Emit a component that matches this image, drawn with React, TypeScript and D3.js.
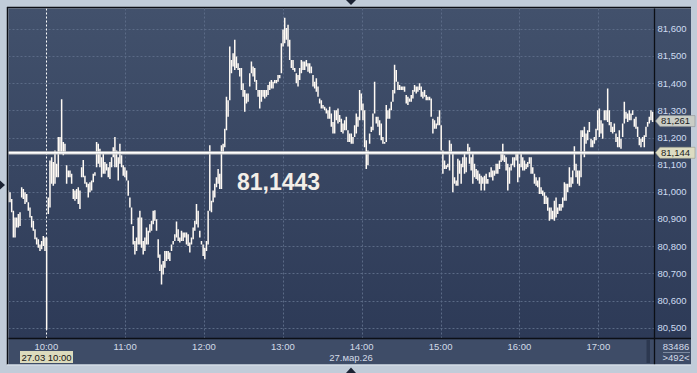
import React from "react";
import * as d3 from "d3";

// Bars: ~76-second high/low bars, starting 27.03.2026 09:31:08
const barStart = new Date(2026, 2, 27, 9, 31, 8);
const barStepSeconds = 76;

const highs = [
  81.005, 80.999, 80.974, 80.931, 80.906, 80.906, 80.919, 80.925, 81.017, 81.011,
  80.999, 80.993, 80.962, 80.943, 80.912, 80.894, 80.863, 80.832, 80.826, 80.807,
  80.820, 80.838, 80.832, 80.832, 80.980, 81.116, 81.128, 81.110, 81.153, 81.104,
  81.202, 81.202, 81.341, 81.184, 81.178, 81.098, 81.079, 81.079, 81.067, 81.011,
  81.005, 81.011, 81.017, 81.005, 81.091, 81.118, 81.060, 81.036, 81.030, 81.036,
  81.042, 81.067, 81.073, 81.184, 81.178, 81.159, 81.128, 81.141, 81.110, 81.104,
  81.091, 81.110, 81.128, 81.165, 81.202, 81.153, 81.128, 81.178, 81.135, 81.098,
  81.091, 81.079, 81.042, 80.980, 80.943, 80.875, 80.820, 80.832, 80.906, 80.931,
  80.906, 80.820, 80.832, 80.869, 80.857, 80.881, 80.894, 80.931, 80.933, 80.900,
  80.826, 80.770, 80.733, 80.746, 80.783, 80.783, 80.783, 80.777,
  80.807, 80.820, 80.844, 80.891, 80.863, 80.832, 80.857, 80.851, 80.851, 80.851,
  80.844, 80.814, 80.832, 80.869, 80.894, 80.956, 80.931, 80.857, 80.820, 80.807,
  80.795, 80.820, 80.931, 81.172, 80.968, 81.005, 81.030, 81.054, 81.085, 81.067,
  81.172, 81.178, 81.233, 81.351, 81.338, 81.536, 81.486, 81.511, 81.560, 81.499,
  81.474, 81.456, 81.456, 81.400, 81.375, 81.363, 81.363, 81.437, 81.480, 81.462,
  81.456, 81.412, 81.375, 81.375, 81.375, 81.375, 81.375, 81.375, 81.394, 81.406,
  81.412, 81.406, 81.412, 81.412, 81.431, 81.431, 81.548, 81.598, 81.641, 81.604,
  81.616, 81.560, 81.486, 81.486, 81.456, 81.437, 81.431, 81.456, 81.486, 81.480,
  81.480, 81.486, 81.474, 81.474, 81.462, 81.431, 81.406, 81.419, 81.388, 81.344,
  81.338, 81.320, 81.314, 81.307, 81.301,
  81.314, 81.289, 81.258, 81.301, 81.301, 81.307, 81.283, 81.270, 81.252, 81.264,
  81.277, 81.227, 81.215, 81.215, 81.202, 81.246, 81.289, 81.277, 81.375, 81.363,
  81.326, 81.301, 81.190, 81.153, 81.215, 81.240, 81.289, 81.406, 81.277, 81.277,
  81.264, 81.252, 81.202, 81.184, 81.320, 81.301, 81.307, 81.332, 81.375, 81.468,
  81.449, 81.406, 81.394, 81.388, 81.388, 81.388, 81.357, 81.351, 81.344, 81.357,
  81.375, 81.394, 81.388, 81.388, 81.400, 81.388, 81.369, 81.375, 81.357, 81.351,
  81.351, 81.344, 81.270, 81.264, 81.252, 81.277, 81.301, 81.246, 81.153, 81.116,
  81.098, 81.104, 81.190, 81.178, 81.141, 81.054, 81.042, 81.122, 81.116, 81.104,
  81.128, 81.141, 81.128, 81.178, 81.165, 81.128, 81.141, 81.104, 81.085, 81.079,
  81.067, 81.060, 81.054, 81.060, 81.067, 81.048,
  81.073, 81.091, 81.079, 81.079, 81.104, 81.104, 81.116, 81.141, 81.178, 81.135,
  81.128, 81.104, 81.091, 81.104, 81.128, 81.128, 81.141, 81.141, 81.104, 81.141,
  81.128, 81.116, 81.104, 81.110, 81.128, 81.128, 81.091, 81.067, 81.054, 81.042,
  81.054, 81.017, 81.005, 80.999, 80.986, 80.980, 80.943, 80.943, 80.931, 80.968,
  80.980, 80.943, 80.956, 80.956, 80.980, 81.036, 81.030, 81.030, 81.091, 81.054,
  81.079, 81.168, 81.104, 81.079, 81.079, 81.227, 81.227, 81.240, 81.215, 81.227,
  81.258, 81.196, 81.190, 81.202, 81.233, 81.301, 81.307, 81.264, 81.252, 81.301,
  81.301, 81.381, 81.301, 81.258, 81.240, 81.252, 81.215, 81.202, 81.227, 81.196,
  81.252, 81.332, 81.295, 81.289, 81.301, 81.289, 81.301, 81.270, 81.277, 81.240,
  81.202, 81.196, 81.202, 81.209, 81.240, 81.258, 81.277, 81.301, 81.295,
];

const lows = [
  80.962, 80.962, 80.925, 80.832, 80.832, 80.869, 80.869, 80.875, 80.980, 80.974,
  80.956, 80.962, 80.931, 80.906, 80.869, 80.857, 80.826, 80.807, 80.795, 80.783,
  80.789, 80.801, 80.783, 80.493, 80.919, 80.943, 81.030, 81.023, 81.030, 81.054,
  81.054, 81.141, 81.141, 81.135, 81.141, 81.030, 81.054, 81.054, 81.030, 80.974,
  80.968, 80.974, 80.956, 80.937, 81.054, 81.054, 81.030, 81.017, 80.980, 80.999,
  81.005, 81.036, 81.060, 81.091, 81.104, 81.091, 81.054, 81.067, 81.067, 81.079,
  81.054, 81.048, 81.091, 81.128, 81.091, 81.091, 81.042, 81.104, 81.091, 81.060,
  81.054, 81.042, 80.986, 80.943, 80.881, 80.807, 80.770, 80.783, 80.807, 80.807,
  80.795, 80.770, 80.783, 80.807, 80.807, 80.851, 80.857, 80.881, 80.894, 80.857,
  80.758, 80.709, 80.659, 80.696, 80.721, 80.746, 80.752, 80.746,
  80.783, 80.807, 80.820, 80.832, 80.820, 80.814, 80.820, 80.820, 80.832, 80.807,
  80.801, 80.777, 80.807, 80.826, 80.857, 80.881, 80.869, 80.832, 80.807, 80.764,
  80.752, 80.783, 80.807, 80.931, 80.925, 80.962, 80.980, 81.017, 81.030, 81.011,
  81.011, 81.141, 81.165, 81.227, 81.277, 81.338, 81.437, 81.462, 81.449, 81.456,
  81.449, 81.425, 81.375, 81.351, 81.295, 81.326, 81.332, 81.388, 81.437, 81.425,
  81.406, 81.375, 81.351, 81.307, 81.332, 81.351, 81.344, 81.351, 81.357, 81.375,
  81.381, 81.381, 81.400, 81.400, 81.406, 81.419, 81.437, 81.536, 81.548, 81.560,
  81.536, 81.486, 81.456, 81.449, 81.443, 81.400, 81.388, 81.412, 81.437, 81.449,
  81.449, 81.462, 81.443, 81.437, 81.437, 81.388, 81.381, 81.369, 81.351, 81.326,
  81.307, 81.307, 81.301, 81.289, 81.270,
  81.270, 81.240, 81.215, 81.215, 81.264, 81.252, 81.258, 81.221, 81.215, 81.227,
  81.227, 81.184, 81.184, 81.178, 81.178, 81.202, 81.215, 81.240, 81.264, 81.301,
  81.264, 81.165, 81.085, 81.098, 81.178, 81.221, 81.227, 81.289, 81.252, 81.240,
  81.209, 81.190, 81.178, 81.178, 81.184, 81.270, 81.270, 81.301, 81.332, 81.363,
  81.406, 81.375, 81.375, 81.375, 81.375, 81.369, 81.326, 81.320, 81.332, 81.332,
  81.344, 81.369, 81.363, 81.369, 81.375, 81.351, 81.344, 81.351, 81.338, 81.338,
  81.338, 81.277, 81.215, 81.233, 81.233, 81.246, 81.246, 81.153, 81.067, 81.085,
  81.085, 81.091, 81.079, 81.141, 80.999, 81.030, 81.023, 81.023, 81.067, 81.030,
  81.091, 81.067, 81.073, 81.141, 81.104, 81.079, 81.030, 81.054, 81.048, 81.042,
  81.030, 81.005, 81.030, 81.005, 81.030, 81.030,
  81.054, 81.054, 81.042, 81.060, 81.067, 81.067, 81.085, 81.110, 81.116, 81.110,
  81.079, 81.005, 81.030, 81.079, 81.098, 81.091, 81.116, 81.036, 81.054, 81.091,
  81.079, 81.079, 81.085, 81.091, 81.104, 81.067, 81.067, 81.030, 81.023, 81.017,
  80.993, 80.993, 80.986, 80.956, 80.956, 80.931, 80.894, 80.900, 80.900, 80.894,
  80.906, 80.919, 80.931, 80.931, 80.943, 80.968, 80.968, 80.999, 81.017, 81.017,
  81.030, 81.079, 81.054, 81.030, 81.023, 81.054, 81.202, 81.128, 81.178, 81.190,
  81.221, 81.165, 81.165, 81.178, 81.190, 81.227, 81.202, 81.215, 81.196, 81.264,
  81.264, 81.258, 81.246, 81.221, 81.215, 81.221, 81.184, 81.165, 81.165, 81.159,
  81.202, 81.252, 81.270, 81.258, 81.264, 81.264, 81.283, 81.240, 81.233, 81.202,
  81.172, 81.165, 81.184, 81.165, 81.202, 81.240, 81.252, 81.264, 81.258,
];

const priceTicks = [81.6, 81.5, 81.4, 81.3, 81.2, 81.1, 81.0, 80.9, 80.8, 80.7, 80.6, 80.5];
const hourTicks = ["10:00", "11:00", "12:00", "13:00", "14:00", "15:00", "16:00", "17:00"];
const markerLevel = 81.1443;
const lastPrice = 81.261;
const cursorLabel = "27.03 10:00";
const dateLabel = "27.мар.26";
const volumeLabel = "83486";
const countLabel = ">492<";

const W = 697;
const H = 373;
const plotL = 8.5;
const plotT = 8.5;
const plotR = 654;
const plotB = 338;
const axisR = 691;
const axisB = 364.5;

const locale = d3.formatLocale({ decimal: ",", thousands: " ", grouping: [3], currency: ["", ""] });
const fmt3 = locale.format(".3f");
const fmt4 = locale.format(".4f");

function toTime(s: string) {
  const [h, m] = s.split(":").map(Number);
  return new Date(2026, 2, 27, h, m, 0);
}

export default function App() {
  const x = d3
    .scaleTime()
    .domain([toTime("10:00"), toTime("17:00")])
    .range([46.3, 598.3]);
  const y = d3.scaleLinear().domain([80.5, 81.6]).range([327.8, 29]);

  const bars = highs.map((hi, i) => ({
    t: new Date(barStart.getTime() + i * barStepSeconds * 1000),
    hi,
    lo: lows[i],
  }));

  const font = "'Liberation Sans', Arial, sans-serif";
  const yLast = y(lastPrice);
  const yMark = y(markerLevel);

  return (
    <svg
      width={W}
      height={H}
      style={{ position: "fixed", left: 0, top: 0, display: "block" }}
      fontFamily={font}
    >
      <defs>
        <linearGradient id="bg" x1="0" y1="0" x2="0" y2="1">
          <stop offset="0" stopColor="#42516c" />
          <stop offset="1" stopColor="#2d3a57" />
        </linearGradient>
        <clipPath id="plotclip">
          <rect x={plotL} y={plotT} width={plotR - plotL} height={plotB - plotT} />
        </clipPath>
      </defs>
      <rect x={0} y={0} width={W} height={H} fill="#c1ccd9" />
      {/* panels */}
      <rect x={plotL} y={plotT} width={axisR - plotL} height={plotB - plotT} fill="url(#bg)" />
      <rect x={plotL} y={plotB} width={axisR - plotL} height={axisB - plotB} fill="#3e4c67" />
      <rect x={646.5} y={340} width={3.5} height={23} fill="#2c3850" />
      {/* grid */}
      {priceTicks.map((p) => (
        <line
          key={"gy" + p}
          x1={plotL}
          x2={plotR}
          y1={Math.round(y(p)) + 0.5}
          y2={Math.round(y(p)) + 0.5}
          stroke="#5b6a86"
          strokeDasharray="2,2"
        />
      ))}
      {hourTicks.slice(1).map((h) => (
        <line
          key={"gx" + h}
          x1={Math.round(x(toTime(h))) + 0.5}
          x2={Math.round(x(toTime(h))) + 0.5}
          y1={plotT}
          y2={plotB}
          stroke="#5b6a86"
          strokeDasharray="2,2"
        />
      ))}
      {/* cursor line */}
      <line
        x1={Math.round(x(toTime("10:00"))) + 0.5}
        x2={Math.round(x(toTime("10:00"))) + 0.5}
        y1={plotT}
        y2={plotB}
        stroke="#ffffff"
        strokeDasharray="2,2"
      />
      {/* bars */}
      <g clipPath="url(#plotclip)">
        {bars.map((b, i) => {
          const yh = y(b.hi);
          const yl = Math.max(y(b.lo), yh + 1.2);
          return (
            <line
              key={i}
              x1={x(b.t)}
              x2={x(b.t)}
              y1={yh}
              y2={yl}
              stroke="#fffaf4"
              strokeWidth={1.5}
            />
          );
        })}
      </g>
      {/* marker line */}
      <line x1={plotL} x2={plotR} y1={yMark} y2={yMark} stroke="#c9c9c9" strokeWidth={3.2} />
      <line x1={plotL} x2={plotR} y1={yMark} y2={yMark} stroke="#ffffff" strokeWidth={1.4} />
      <text
        x={237}
        y={yMark + 37}
        fontSize={23}
        fontWeight="bold"
        fill="#f3eee8"
      >
        {fmt4(markerLevel)}
      </text>
      {/* frame lines */}
      <line x1={7} x2={axisR} y1={7.5} y2={7.5} stroke="#0c0f16" strokeWidth={1.5} />
      <line x1={7.5} x2={7.5} y1={7} y2={axisB} stroke="#0c0f16" strokeWidth={1.5} />
      <line x1={plotR + 0.5} x2={plotR + 0.5} y1={plotT} y2={axisB} stroke="#0c0f16" strokeWidth={1.3} />
      <line x1={plotL} x2={axisR} y1={plotB + 0.5} y2={plotB + 0.5} stroke="#0c0f16" strokeWidth={1.3} />
      <line x1={7} x2={axisR} y1={axisB + 0.5} y2={axisB + 0.5} stroke="#dfe6ee" strokeWidth={1} />
      {/* y axis labels */}
      {priceTicks.map((p) => (
        <text
          key={"ty" + p}
          x={657.5}
          y={y(p) + 3.3}
          fontSize={9.5}
          fill="#cfdcf2"
        >
          {fmt3(p)}
        </text>
      ))}
      {/* price tags */}
      <path
        d={`M655.5,${yLast} L660,${yLast - 5.5} L695,${yLast - 5.5} L695,${yLast + 5.5} L660,${yLast + 5.5} Z`}
        fill="#c9cdc6"
        stroke="#8d9196"
        strokeWidth={0.6}
      />
      <text x={661} y={yLast + 3.3} fontSize={9.5} fill="#1c1c1c">
        {fmt3(lastPrice)}
      </text>
      <path
        d={`M655.5,${yMark} L660,${yMark - 5.5} L695,${yMark - 5.5} L695,${yMark + 5.5} L660,${yMark + 5.5} Z`}
        fill="#dddcc2"
        stroke="#9a9a8a"
        strokeWidth={0.6}
      />
      <text x={661} y={yMark + 3.3} fontSize={9.5} fill="#1c1c1c">
        {fmt3(markerLevel)}
      </text>
      {/* x axis labels */}
      {hourTicks.map((h) => (
        <text
          key={"tx" + h}
          x={x(toTime(h))}
          y={349.5}
          fontSize={9.5}
          fill="#d3dbe8"
          textAnchor="middle"
        >
          {h}
        </text>
      ))}
      <rect x={20} y={351} width={53} height={12} fill="#dcdbbd" />
      <text x={46.5} y={360.5} fontSize={9.5} fill="#141414" textAnchor="middle">
        {cursorLabel}
      </text>
      <text x={351} y={361} fontSize={9.5} fill="#d3dbe8" textAnchor="middle">
        {dateLabel}
      </text>
      <text x={676} y={349.5} fontSize={9.5} fill="#d3dbe8" textAnchor="middle">
        {volumeLabel}
      </text>
      <line x1={663} x2={690} y1={352.5} y2={352.5} stroke="#7d8aa0" />
      <text x={676} y={361} fontSize={9.5} fill="#d3dbe8" textAnchor="middle">
        {countLabel}
      </text>
      {/* nav triangles */}
      <path d="M346,0 L356,0 L351,5 Z" fill="#1b2233" />
      <path d="M346,373 L356,373 L351,367.5 Z" fill="#1b2233" />
      <path d="M0,180.5 L0,189.5 L5,185 Z" fill="#1b2233" />
    </svg>
  );
}
